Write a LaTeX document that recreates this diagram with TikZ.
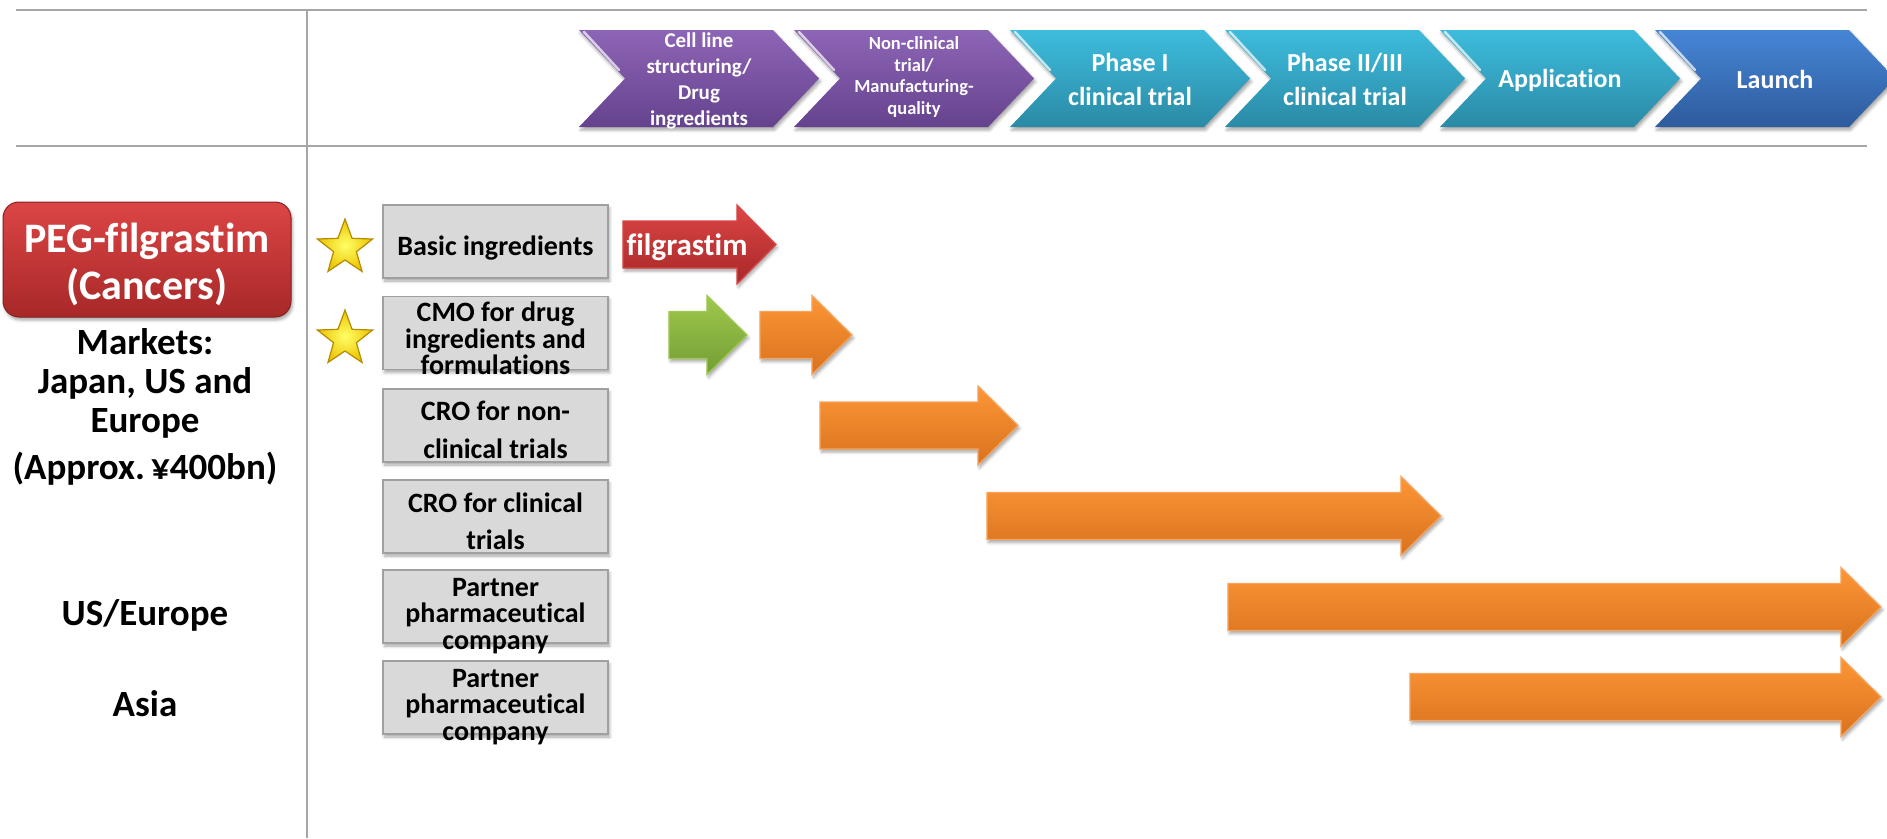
\documentclass[tikz,border=0pt]{standalone}
\usepackage{fontspec}
\setmainfont{Carlito}[Ligatures=CommonOff]
\usetikzlibrary{shadows.blur}
\definecolor{lineGray}{HTML}{A6A6A6}
\definecolor{purpTop}{HTML}{8D65B6}
\definecolor{purpBot}{HTML}{65428E}
\definecolor{cyanTop}{HTML}{3EBCDD}
\definecolor{cyanBot}{HTML}{2A8AA5}
\definecolor{blueTop}{HTML}{4686D6}
\definecolor{blueBot}{HTML}{2E5B9C}
\definecolor{redTop}{HTML}{DC4545}
\definecolor{redBot}{HTML}{A82828}
\definecolor{grnTop}{HTML}{A0C84D}
\definecolor{grnBot}{HTML}{729E33}
\definecolor{orTop}{HTML}{FD9636}
\definecolor{orBot}{HTML}{D8721E}
\definecolor{orEdge}{HTML}{F8A45C}
\definecolor{boxFill}{HTML}{D9D9D9}
\definecolor{boxEdge}{HTML}{A0A0A0}
\definecolor{starIn}{HTML}{FFFF66}
\definecolor{starOut}{HTML}{EBC300}
\definecolor{starEdge}{HTML}{B58A00}
\newcommand{\fs}[2]{\fontsize{#1}{#2}\selectfont}
% chevron: #1 left x, #2 style
\newcommand{\chevron}[2]{%
  \path[#2] (#1,30) -- ++(194,0) -- ++(46,48.5) -- ++(-46,48.5) -- ++(-194,0) -- ++(46,-48.5) -- cycle;
  \draw[gloss] (#1+5,32) -- (#1+40,70);
}
% block arrow: #1 start x, #2 head base x, #3 tip x, #4 centre y, #5 style
\newcommand{\blockarrow}[5]{%
  \path[#5] (#1,#4-23.5) -- (#2,#4-23.5) -- (#2,#4-39.5) -- (#3,#4) -- (#2,#4+39.5) -- (#2,#4+23.5) -- (#1,#4+23.5) -- cycle;
}
% star: #1 centre x, #2 centre y
\newcommand{\yellowstar}[2]{%
  \path[starstyle] (#1,#2) +(-90:29) -- +(-54:12) -- +(-18:29) -- +(18:12) -- +(54:29) -- +(90:12) -- +(126:29) -- +(162:12) -- +(198:29) -- +(234:12) -- cycle;
}
\begin{document}
\begin{tikzpicture}[x=1pt,y=-1pt,
  gridline/.style={draw=lineGray,line width=1.8pt},
  softshadow/.style={blur shadow={shadow xshift=1.5pt,shadow yshift=-3pt,shadow blur radius=3pt,shadow opacity=35}},
  purplechev/.style={softshadow,top color=purpTop,bottom color=purpBot},
  cyanchev/.style={softshadow,top color=cyanTop,bottom color=cyanBot},
  bluechev/.style={softshadow,top color=blueTop,bottom color=blueBot},
  gloss/.style={draw=white,opacity=0.7,line width=2.5pt,line cap=round},
  chevtext/.style={text=white,align=center,inner sep=0pt},
  orangearrow/.style={softshadow,top color=orTop,bottom color=orBot,draw=orEdge,line width=1.2pt},
  greenarrow/.style={softshadow,top color=grnTop,bottom color=grnBot,draw=grnTop,line width=1.2pt},
  redarrow/.style={softshadow,top color=redTop,bottom color=redBot,draw=redTop,line width=1.2pt},
  greybox/.style={softshadow,fill=boxFill,draw=boxEdge,line width=1.5pt,minimum width=225pt,minimum height=73pt,inner sep=0pt},
  boxtext/.style={align=center,inner sep=0pt,font=\bfseries\fs{28}{26.5}},
  lefttext/.style={align=center,inner sep=0pt,font=\bfseries\fs{37}{39}},
  starstyle/.style={inner color=starIn,outer color=starOut,draw=starEdge,line width=1.2pt,line join=miter},
  redbox/.style={softshadow,top color=redTop,bottom color=redBot,draw=redBot!80!black,line width=1pt,rounded corners=16pt,minimum width=288pt,minimum height=115pt,inner sep=0pt,text=white,align=center,font=\bfseries\fs{42}{47}}
]
\useasboundingbox (0,0) rectangle (1887,838);
% grid lines
\coordinate (tl) at (16,10);
\coordinate (tr) at (1867,10);
\coordinate (ml) at (16,146);
\coordinate (mr) at (1867,146);
\coordinate (vt) at (307,10);
\coordinate (vb) at (307,838);
\draw[gridline] (tl) -- (tr);
\draw[gridline] (ml) -- (mr);
\draw[gridline] (vt) -- (vb);
% chevrons
\chevron{579}{purplechev}
\chevron{794}{purplechev}
\chevron{1010}{cyanchev}
\chevron{1225}{cyanchev}
\chevron{1440}{cyanchev}
\chevron{1655}{bluechev}
\node[chevtext,font=\bfseries\fs{21}{26}] (c1) at (699,81) {Cell line\\structuring/\\Drug\\ingredients};
\node[chevtext,font=\bfseries\fs{18.5}{21.7}] (c2) at (914,77) {Non-clinical\\trial/\\Manufacturing-\\quality};
\node[chevtext,font=\bfseries\fs{26}{33.5}] (c3) at (1130,79.5) {Phase I\\clinical trial};
\node[chevtext,font=\bfseries\fs{26}{33.5}] (c4) at (1345,79.5) {Phase II/III\\clinical trial};
\node[chevtext,font=\bfseries\fs{26}{33.5}] (c5) at (1560,80) {Application};
\node[chevtext,font=\bfseries\fs{26}{33.5}] (c6) at (1775,79) {Launch};
% left column
\node[redbox] (peg) at (147,259.5) {};
\node[text=white,align=center,inner sep=0pt,font=\bfseries\fs{42}{47}] (pegt) at (147,264) {PEG-filgrastim\\(Cancers)};
\node[lefttext] (mk) at (145,383) {Markets:\\Japan, US and\\Europe};
\node[lefttext] (apx) at (145,469) {(Approx.\,¥400bn)};
\node[lefttext] (use) at (145,615) {US/Europe};
\node[lefttext] (asia) at (145,704) {Asia};
% stars
\yellowstar{345}{248}
\yellowstar{345}{339}
% grey boxes
\node[greybox] (b1) at (495.5,241.5) {};
\node[greybox] (b2) at (495.5,333) {};
\node[greybox] (b3) at (495.5,425.5) {};
\node[greybox] (b4) at (495.5,516.5) {};
\node[greybox] (b5) at (495.5,606.5) {};
\node[greybox] (b6) at (495.5,697.5) {};
\node[boxtext] (t1) at (495.5,248) {Basic ingredients};
\node[boxtext] (t2) at (495.5,338.5) {CMO for drug\\ingredients and\\formulations};
\node[boxtext,font=\bfseries\fs{28}{38}] (t3) at (495.5,430) {CRO for non-\\clinical trials};
\node[boxtext,font=\bfseries\fs{28}{37}] (t4) at (495.5,521) {CRO for clinical\\trials};
\node[boxtext] (t5) at (495.5,616) {Partner\\pharmaceutical\\company};
\node[boxtext] (t6) at (495.5,707) {Partner\\pharmaceutical\\company};
% block arrows
\blockarrow{623}{737}{776}{244.5}{redarrow}
\node[text=white,inner sep=0pt,font=\bfseries\fs{31}{31}] (fil) at (687,247) {filgrastim};
\blockarrow{669}{707}{747}{335}{greenarrow}
\blockarrow{760}{812}{852}{335}{orangearrow}
\blockarrow{820}{978}{1018}{425.5}{orangearrow}
\blockarrow{987}{1401}{1441}{516}{orangearrow}
\blockarrow{1228}{1841}{1881}{607}{orangearrow}
\blockarrow{1410}{1841}{1881}{697}{orangearrow}
\end{tikzpicture}
\end{document}
